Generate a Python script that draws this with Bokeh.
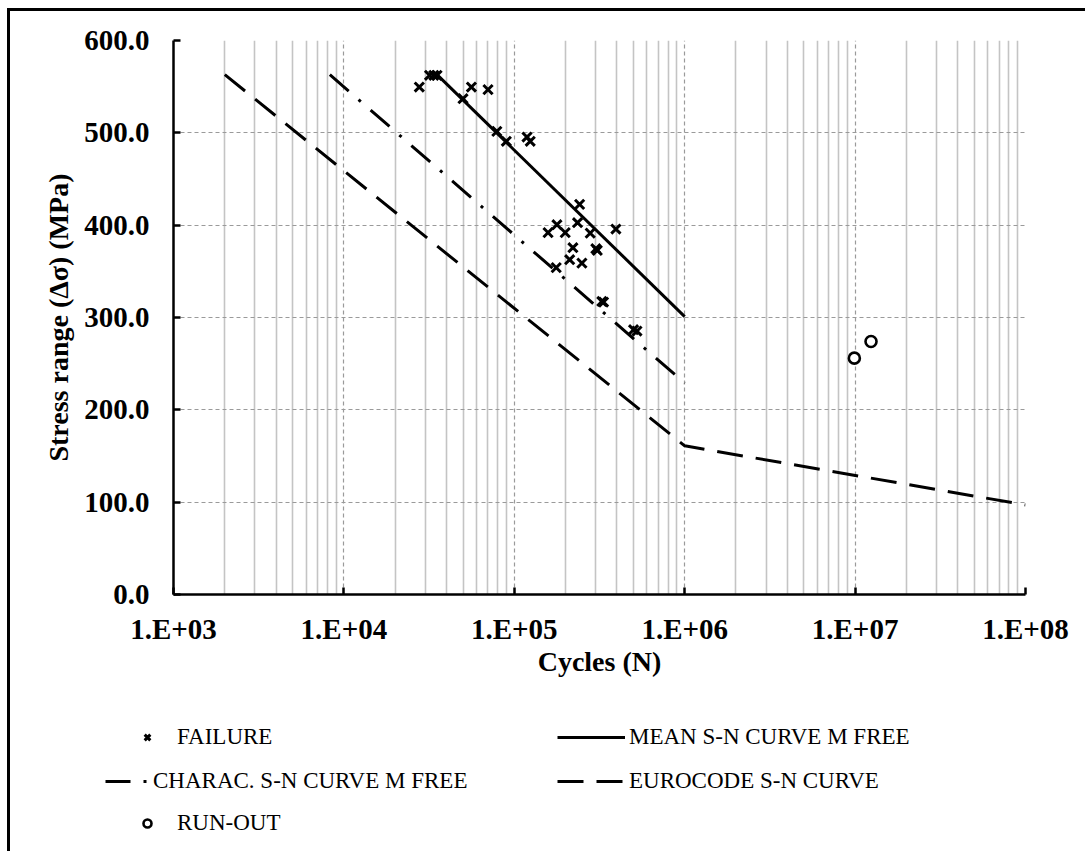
from bokeh.plotting import figure
from bokeh.layouts import column
from bokeh.models import (Range1d, FixedTicker, NumeralTickFormatter, Legend, LegendItem)
from bokeh.embed import file_html
from bokeh.resources import INLINE

# Fatigue test results: failures
failure_cycles = [27700, 31800, 33700, 35200, 50000, 56000, 70100, 79000, 89800,
                  118700, 124000, 241700, 235000, 177900, 157800, 199000, 279000,
                  394600, 220800, 301000, 307000, 211300, 249300, 176200, 326400,
                  334000, 501000, 524600]
failure_stress = [549.6, 562.3, 562.3, 562.3, 537.0, 549.6, 546.8, 501.6, 490.8,
                  495.4, 490.8, 422.5, 402.7, 400.5, 391.9, 391.9, 391.4, 395.8,
                  375.6, 374.5, 372.7, 362.6, 358.9, 354.0, 317.4, 316.7, 286.8,
                  285.3]

# Run-outs (no failure)
runout_cycles = [9.9e6, 1.24e7]
runout_stress = [256.0, 274.0]

# S-N curves
mean_cycles = [35200, 1e6]
mean_stress = [563.0, 301.0]
charac_cycles = [8270, 1e6]
charac_stress = [563.0, 229.0]
euro_cycles = [2000, 1e6, 1e8]
euro_stress = [563.0, 161.0, 97.0]

# Axis ticks
x_ticks = [1e3, 1e4, 1e5, 1e6, 1e7, 1e8]
x_tick_labels = ["1.E+03", "1.E+04", "1.E+05", "1.E+06", "1.E+07", "1.E+08"]
y_ticks = [0, 100, 200, 300, 400, 500, 600]

SERIF = "Liberation Serif"
W = 1075

# Line / marker styles shared by the chart and its key
FAIL_STYLE = dict(marker="x", line_color="black", line_width=3)
RUN_STYLE = dict(marker="circle", line_color="black", line_width=2.6, fill_color="white")
MEAN_STYLE = dict(line_color="black", line_width=3)
CHAR_STYLE = dict(line_color="black", line_width=3, line_dash="25 13 3 13")
EURO_STYLE = dict(line_color="black", line_width=3, line_dash="26 13")

p = figure(width=W, height=690, x_axis_type="log",
           x_range=Range1d(1e3, 1e8), y_range=Range1d(0, 600),
           output_backend="svg", toolbar_location=None,
           min_border_left=163, min_border_right=60,
           min_border_top=29, min_border_bottom=107)
p.outline_line_color = None
p.background_fill_color = "white"
p.border_fill_color = "white"

minor = []
for d in range(3, 8):
    for m in range(2, 10):
        minor.append(m * 10 ** d)

p.xaxis.ticker = FixedTicker(ticks=x_ticks, minor_ticks=minor)
p.xaxis.major_label_overrides = {int(t): s for t, s in zip(x_ticks, x_tick_labels)}
p.yaxis.ticker = FixedTicker(ticks=y_ticks, minor_ticks=[])
p.yaxis.formatter = NumeralTickFormatter(format="0.0")

for ax in (p.xaxis[0], p.yaxis[0]):
    ax.axis_line_width = 2.5
    ax.axis_line_color = "black"
    ax.major_tick_in = 7
    ax.major_tick_out = 0
    ax.major_tick_line_width = 2.5
    ax.minor_tick_in = 0
    ax.minor_tick_out = 0
    ax.major_label_text_font = SERIF
    ax.major_label_text_font_style = "bold"
    ax.major_label_text_font_size = "29px"
    ax.major_label_text_color = "black"
    ax.axis_label_text_font = SERIF
    ax.axis_label_text_font_style = "bold"
    ax.axis_label_text_font_size = "28px"
    ax.axis_label_text_color = "black"

p.xaxis.axis_label = "Cycles (N)"
p.yaxis.axis_label = "Stress range (Δσ) (MPa)"
p.xaxis.major_label_standoff = 18
p.xaxis.axis_label_standoff = -2
p.yaxis.major_label_standoff = 24
p.yaxis.axis_label_standoff = 7

p.xgrid.grid_line_color = "#9a9a9a"
p.xgrid.grid_line_dash = "4 3"
p.xgrid.grid_line_width = 1.2
p.xgrid.minor_grid_line_color = "#c4c4c4"
p.xgrid.minor_grid_line_width = 1.6
p.ygrid.grid_line_color = "#9a9a9a"
p.ygrid.grid_line_dash = "4 3"
p.ygrid.grid_line_width = 1.2

p.line(euro_cycles, euro_stress, **EURO_STYLE)
p.line(charac_cycles, charac_stress, **CHAR_STYLE)
p.line(mean_cycles, mean_stress, **MEAN_STYLE)
p.scatter(failure_cycles, failure_stress, size=13, **FAIL_STYLE)
p.scatter(runout_cycles, runout_stress, size=11, **RUN_STYLE)

# Key, drawn in a strip below the chart. Its renderers carry the same data,
# which lies far outside this strip's 0..1 ranges, so only the key samples show.
k = figure(width=W, height=150, x_range=Range1d(0, 1), y_range=Range1d(0, 1),
           output_backend="svg", toolbar_location=None,
           x_axis_location=None, y_axis_location=None,
           min_border_left=0, min_border_right=0, min_border_top=0, min_border_bottom=0)
k.frame_align = False
k.grid.visible = False
k.outline_line_color = None
k.background_fill_color = "white"
k.border_fill_color = "white"

k_fail = k.scatter(failure_cycles, failure_stress, size=10, **FAIL_STYLE)
k_run = k.scatter(runout_cycles, runout_stress, size=10, **RUN_STYLE)
k_mean = k.line(mean_cycles, mean_stress, **MEAN_STYLE)
k_char = k.line(charac_cycles, charac_stress, **CHAR_STYLE)
k_euro = k.line(euro_cycles, euro_stress, **EURO_STYLE)

key_style = dict(label_text_font=SERIF, label_text_font_size="23px",
                 label_text_color="black", label_height=24, glyph_height=24,
                 padding=0, margin=0, background_fill_alpha=0, border_line_color=None)

key_points = Legend(items=[LegendItem(label="FAILURE", renderers=[k_fail]),
                           LegendItem(label="RUN-OUT", renderers=[k_run])],
                    location=(127, 15), glyph_width=20, label_standoff=20,
                    spacing=60, **key_style)
key_char = Legend(items=[LegendItem(label="CHARAC. S-N CURVE M FREE", renderers=[k_char])],
                  location=(95, 57), glyph_width=45, label_standoff=3,
                  spacing=18, **key_style)
key_right = Legend(items=[LegendItem(label="MEAN S-N CURVE M FREE", renderers=[k_mean]),
                          LegendItem(label="EUROCODE S-N CURVE", renderers=[k_euro])],
                   location=(547, 57), glyph_width=68, label_standoff=4,
                   spacing=18, **key_style)
k.add_layout(key_points)
k.add_layout(key_char)
k.add_layout(key_right)

page = column(p, k, spacing=0,
              styles={"margin-left": "7px", "margin-top": "8px",
                      "border-left": "3px solid black", "border-top": "3px solid black"})

open("out.html", "w").write(file_html(page, INLINE))
